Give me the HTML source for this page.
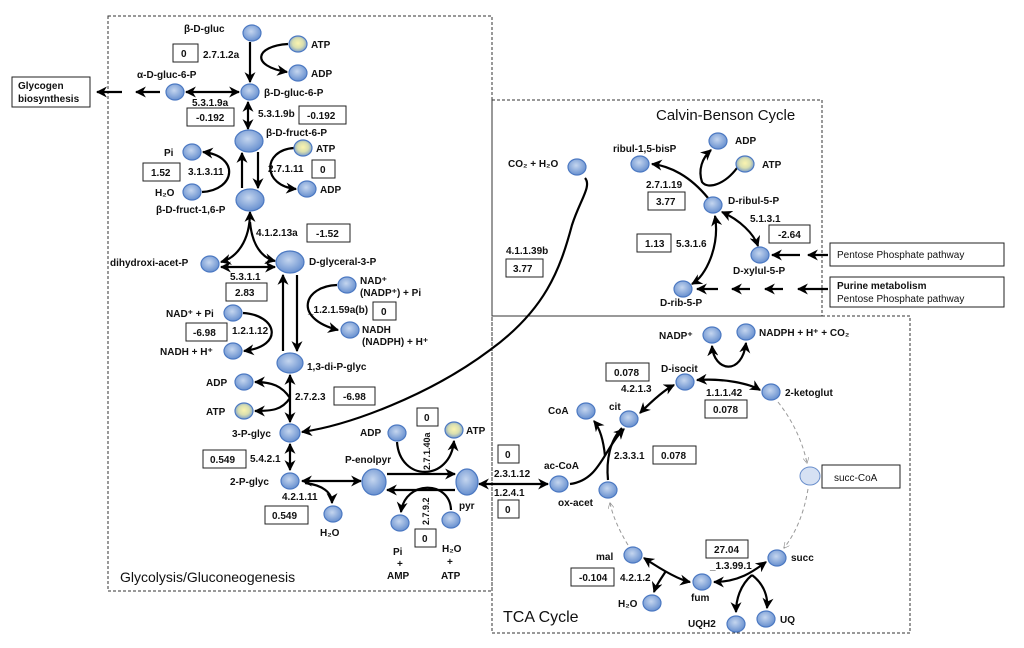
<!DOCTYPE html>
<html><head><meta charset="utf-8"><style>
html,body{margin:0;padding:0;background:#fff;}
svg{display:block;font-family:"Liberation Sans",sans-serif;}
text{font-size:10px;font-weight:bold;fill:#111;}
.t{font-weight:normal;}
.n{stroke:#4c79c2;stroke-width:1.2;fill:url(#g);}
.y{stroke:#4c79c2;stroke-width:1.2;fill:url(#gy);}
.b{fill:#fff;stroke:#222;stroke-width:1;}
.a{fill:none;stroke:#000;stroke-width:2.2;}
.d{fill:none;stroke:#333;stroke-width:1;stroke-dasharray:3 2;}
.dash{fill:none;stroke:#999;stroke-width:1;stroke-dasharray:4 3;}
</style></head><body>
<svg width="1024" height="648" viewBox="0 0 1024 648" xmlns="http://www.w3.org/2000/svg">
<defs>
<radialGradient id="g" cx="45%" cy="40%" r="60%"><stop offset="0" stop-color="#c5d6ef"/><stop offset="1" stop-color="#6890cf"/></radialGradient>
<radialGradient id="gy" cx="50%" cy="45%" r="60%"><stop offset="0" stop-color="#fbf4b0"/><stop offset="0.5" stop-color="#d9dfb0"/><stop offset="1" stop-color="#6890cf"/></radialGradient>
<marker id="m" viewBox="0 0 10 10" refX="9" refY="5" markerWidth="5" markerHeight="5" orient="auto-start-reverse"><path d="M0,0 L10,5 L0,10 L3,5 z" fill="#000"/></marker>
<marker id="mg" viewBox="0 0 10 10" refX="9" refY="5" markerWidth="6" markerHeight="6" orient="auto"><path d="M0,0 L10,5 L0,10" fill="none" stroke="#888"/></marker>
</defs>

<!-- region boxes -->
<rect x="108" y="16" width="384" height="575" class="d"/>
<rect x="492" y="100" width="330" height="216" class="d"/>
<rect x="492" y="316" width="418" height="317" class="d"/>

<text x="120" y="582" class="t" style="font-size:14px">Glycolysis/Gluconeogenesis</text>
<text x="656" y="120" class="t" style="font-size:15px">Calvin-Benson Cycle</text>
<text x="503" y="622" class="t" style="font-size:16px">TCA Cycle</text>

<!-- external boxes -->
<rect x="12" y="77" width="78" height="30" class="b"/>
<text x="18" y="89">Glycogen</text><text x="18" y="102">biosynthesis</text>
<rect x="830" y="243" width="174" height="23" class="b"/>
<text x="837" y="258" class="t">Pentose Phosphate  pathway</text>
<rect x="830" y="277" width="174" height="30" class="b"/>
<text x="837" y="289">Purine metabolism</text><text x="837" y="302" class="t">Pentose Phosphate  pathway</text>
<rect x="822" y="465" width="78" height="23" class="b"/>
<text x="834" y="481" class="t">succ-CoA</text>

<!-- glycolysis arrows -->
<path class="a" d="M250,42 L250,82" marker-end="url(#m)"/>
<path class="a" d="M288,44 C255,46 250,66 287,72" marker-end="url(#m)"/>
<path class="a" d="M186,92 L239,92" marker-start="url(#m)" marker-end="url(#m)"/>
<path class="a" d="M160,92 L136,92" marker-end="url(#m)"/>
<path class="a" d="M122,92 L97,92" marker-end="url(#m)"/>
<path class="a" d="M248,102 L248,129" marker-start="url(#m)" marker-end="url(#m)"/>
<path class="a" d="M258,152 L258,188" marker-end="url(#m)"/>
<path class="a" d="M242,188 L242,153" marker-end="url(#m)"/>
<path class="a" d="M202,192 C236,190 240,156 203,152" marker-end="url(#m)"/>
<path class="a" d="M294,148 C262,150 262,186 296,189" marker-end="url(#m)"/>
<path class="a" d="M250,212 C250,242 236,258 221,262" marker-start="url(#m)" marker-end="url(#m)"/>
<path class="a" d="M250,222 C252,245 262,258 275,261" marker-end="url(#m)"/>
<path class="a" d="M221,267 L275,267" marker-start="url(#m)" marker-end="url(#m)"/>
<path class="a" d="M283,351 L283,275" marker-end="url(#m)"/>
<path class="a" d="M297,275 L297,351" marker-end="url(#m)"/>
<path class="a" d="M337,285 C304,286 292,318 338,330" marker-end="url(#m)"/>
<path class="a" d="M243,313 C277,315 285,346 244,351" marker-end="url(#m)"/>
<path class="a" d="M290,375 L290,422" marker-start="url(#m)" marker-end="url(#m)"/>
<path class="a" d="M290,398 C282,386 272,382 255,382" marker-end="url(#m)"/>
<path class="a" d="M290,398 C282,410 272,411 255,411" marker-end="url(#m)"/>
<path class="a" d="M290,444 L290,470" marker-start="url(#m)" marker-end="url(#m)"/>
<path class="a" d="M302,481 L361,481" marker-start="url(#m)" marker-end="url(#m)"/>
<path class="a" d="M305,483 C322,485 332,492 332,503" marker-end="url(#m)"/>
<path class="a" d="M387,474 L455,474" marker-end="url(#m)"/>
<path class="a" d="M455,490 L387,490" marker-end="url(#m)"/>
<path class="a" d="M397,442 C400,482 450,482 454,441" marker-end="url(#m)"/>
<path class="a" d="M451,510 C450,480 405,480 401,512" marker-end="url(#m)"/>
<path class="a" d="M548,484 L479,484" marker-start="url(#m)" marker-end="url(#m)"/>
<path class="a" d="M585,178 C592,186 580,200 572,225 C560,270 545,310 490,350 C430,395 350,425 302,432" marker-end="url(#m)"/>

<!-- Calvin arrows -->
<path class="a" d="M708,198 C690,176 670,166 652,164" marker-end="url(#m)"/>
<path class="a" d="M737,168 C725,184 708,190 702,182 C698,170 702,158 711,150" marker-end="url(#m)"/>
<path class="a" d="M722,212 C740,220 754,234 758,246" marker-start="url(#m)" marker-end="url(#m)"/>
<path class="a" d="M715,216 C720,246 706,276 692,284" marker-start="url(#m)" marker-end="url(#m)"/>
<path class="a" d="M800,255 L772,255" marker-end="url(#m)"/>
<path class="a" d="M828,255 L808,255" marker-end="url(#m)"/>
<path class="a" d="M718,289 L697,289" marker-end="url(#m)"/>
<path class="a" d="M750,289 L732,289" marker-end="url(#m)"/>
<path class="a" d="M783,289 L765,289" marker-end="url(#m)"/>
<path class="a" d="M828,289 L798,289" marker-end="url(#m)"/>

<!-- TCA arrows -->
<path class="a" d="M570,484 C600,480 603,450 624,429" marker-end="url(#m)"/>
<path class="a" d="M608,480 C606,460 610,440 622,428" />
<path class="a" d="M605,456 C603,436 598,426 594,421" marker-end="url(#m)"/>
<path class="a" d="M640,413 C655,398 666,389 674,385" marker-start="url(#m)" marker-end="url(#m)"/>
<path class="a" d="M697,380 C725,378 750,384 760,390" marker-start="url(#m)" marker-end="url(#m)"/>
<path class="a" d="M712,346 C714,372 742,376 746,343" marker-start="url(#m)" marker-end="url(#m)"/>
<path class="dash" d="M778,402 Q800,430 807,463" marker-end="url(#mg)"/>
<path class="dash" d="M808,489 Q802,525 784,548" marker-end="url(#mg)"/>
<path class="dash" d="M628,545 Q614,522 610,503" marker-end="url(#mg)"/>
<path class="a" d="M644,558 C665,572 680,580 690,582" marker-start="url(#m)" marker-end="url(#m)"/>
<path class="a" d="M666,571 C660,580 656,586 654,592" marker-end="url(#m)"/>
<path class="a" d="M714,582 C740,582 755,570 766,562" marker-start="url(#m)" marker-end="url(#m)"/>
<path class="a" d="M752,575 C740,585 736,600 736,612" marker-end="url(#m)"/>
<path class="a" d="M752,575 C765,585 768,598 767,608" marker-end="url(#m)"/>

<!-- nodes -->
<ellipse class="n" cx="252" cy="33" rx="9" ry="8"/>
<ellipse class="y" cx="298" cy="44" rx="9" ry="8"/>
<ellipse class="n" cx="298" cy="73" rx="9" ry="8"/>
<ellipse class="n" cx="250" cy="92" rx="9" ry="8"/>
<ellipse class="n" cx="175" cy="92" rx="9" ry="8"/>
<ellipse class="n" cx="249" cy="141" rx="14" ry="11"/>
<ellipse class="y" cx="303" cy="148" rx="9" ry="8"/>
<ellipse class="n" cx="307" cy="189" rx="9" ry="8"/>
<ellipse class="n" cx="192" cy="152" rx="9" ry="8"/>
<ellipse class="n" cx="192" cy="192" rx="9" ry="8"/>
<ellipse class="n" cx="250" cy="200" rx="14" ry="11"/>
<ellipse class="n" cx="210" cy="264" rx="9" ry="8"/>
<ellipse class="n" cx="290" cy="262" rx="14" ry="11"/>
<ellipse class="n" cx="347" cy="285" rx="9" ry="8"/>
<ellipse class="n" cx="350" cy="330" rx="9" ry="8"/>
<ellipse class="n" cx="233" cy="313" rx="9" ry="8"/>
<ellipse class="n" cx="233" cy="351" rx="9" ry="8"/>
<ellipse class="n" cx="290" cy="363" rx="13" ry="10"/>
<ellipse class="n" cx="244" cy="382" rx="9" ry="8"/>
<ellipse class="y" cx="244" cy="411" rx="9" ry="8"/>
<ellipse class="n" cx="290" cy="433" rx="10" ry="9"/>
<ellipse class="n" cx="290" cy="481" rx="9" ry="8"/>
<ellipse class="n" cx="333" cy="514" rx="9" ry="8"/>
<ellipse class="n" cx="374" cy="482" rx="12" ry="13"/>
<ellipse class="n" cx="467" cy="482" rx="11" ry="13"/>
<ellipse class="n" cx="397" cy="433" rx="9" ry="8"/>
<ellipse class="y" cx="454" cy="430" rx="9" ry="8"/>
<ellipse class="n" cx="400" cy="523" rx="9" ry="8"/>
<ellipse class="n" cx="451" cy="520" rx="9" ry="8"/>
<ellipse class="n" cx="577" cy="167" rx="9" ry="8"/>
<ellipse class="n" cx="640" cy="164" rx="9" ry="8"/>
<ellipse class="n" cx="718" cy="141" rx="9" ry="8"/>
<ellipse class="y" cx="745" cy="164" rx="9" ry="8"/>
<ellipse class="n" cx="713" cy="205" rx="9" ry="8"/>
<ellipse class="n" cx="760" cy="255" rx="9" ry="8"/>
<ellipse class="n" cx="683" cy="289" rx="9" ry="8"/>
<ellipse class="n" cx="559" cy="484" rx="9" ry="8"/>
<ellipse class="n" cx="608" cy="490" rx="9" ry="8"/>
<ellipse class="n" cx="586" cy="411" rx="9" ry="8"/>
<ellipse class="n" cx="629" cy="419" rx="9" ry="8"/>
<ellipse class="n" cx="685" cy="382" rx="9" ry="8"/>
<ellipse class="n" cx="712" cy="335" rx="9" ry="8"/>
<ellipse class="n" cx="746" cy="332" rx="9" ry="8"/>
<ellipse class="n" cx="771" cy="392" rx="9" ry="8"/>
<ellipse cx="810" cy="476" rx="10" ry="9" fill="#d6e1f3" stroke="#6a8fcc" stroke-width="1"/>
<ellipse class="n" cx="777" cy="558" rx="9" ry="8"/>
<ellipse class="n" cx="702" cy="582" rx="9" ry="8"/>
<ellipse class="n" cx="633" cy="555" rx="9" ry="8"/>
<ellipse class="n" cx="652" cy="603" rx="9" ry="8"/>
<ellipse class="n" cx="736" cy="624" rx="9" ry="8"/>
<ellipse class="n" cx="766" cy="619" rx="9" ry="8"/>

<!-- glycolysis labels -->
<text x="184" y="32">β-D-gluc</text>
<text x="311" y="48">ATP</text><text x="311" y="77">ADP</text>
<rect x="173" y="44" width="25" height="18" class="b"/><text x="181" y="57">0</text>
<text x="203" y="58">2.7.1.2a</text>
<text x="137" y="78">α-D-gluc-6-P</text>
<text x="264" y="96">β-D-gluc-6-P</text>
<text x="192" y="106">5.3.1.9a</text>
<rect x="187" y="108" width="47" height="18" class="b"/><text x="196" y="121">-0.192</text>
<text x="258" y="117">5.3.1.9b</text>
<rect x="299" y="106" width="47" height="18" class="b"/><text x="307" y="119">-0.192</text>
<text x="266" y="136">β-D-fruct-6-P</text>
<text x="316" y="152">ATP</text><text x="320" y="193">ADP</text>
<text x="164" y="156">Pi</text>
<text x="155" y="196">H₂O</text>
<rect x="143" y="163" width="37" height="18" class="b"/><text x="151" y="176">1.52</text>
<text x="188" y="175">3.1.3.11</text>
<text x="268" y="172">2.7.1.11</text>
<rect x="312" y="160" width="23" height="18" class="b"/><text x="320" y="173">0</text>
<text x="156" y="213">β-D-fruct-1,6-P</text>
<text x="256" y="236">4.1.2.13a</text>
<rect x="307" y="224" width="43" height="18" class="b"/><text x="316" y="237">-1.52</text>
<text x="110" y="266">dihydroxi-acet-P</text>
<text x="309" y="265">D-glyceral-3-P</text>
<text x="230" y="280">5.3.1.1</text>
<rect x="226" y="283" width="41" height="18" class="b"/><text x="235" y="296">2.83</text>
<text x="360" y="284">NAD⁺</text><text x="360" y="296">(NADP⁺) + Pi</text>
<text x="308" y="313">_1.2.1.59a(b)</text>
<rect x="373" y="302" width="23" height="18" class="b"/><text x="381" y="315">0</text>
<text x="362" y="333">NADH</text><text x="362" y="345">(NADPH) + H⁺</text>
<text x="166" y="317">NAD⁺ + Pi</text>
<rect x="186" y="323" width="41" height="18" class="b"/><text x="193" y="336">-6.98</text>
<text x="232" y="334">1.2.1.12</text>
<text x="160" y="355">NADH + H⁺</text>
<text x="307" y="370">1,3-di-P-glyc</text>
<text x="206" y="386">ADP</text><text x="206" y="415">ATP</text>
<text x="295" y="400">2.7.2.3</text>
<rect x="334" y="387" width="41" height="18" class="b"/><text x="343" y="400">-6.98</text>
<text x="232" y="437">3-P-glyc</text>
<rect x="203" y="450" width="43" height="18" class="b"/><text x="210" y="463">0.549</text>
<text x="250" y="462">5.4.2.1</text>
<text x="230" y="485">2-P-glyc</text>
<text x="282" y="500">4.2.1.11</text>
<rect x="265" y="506" width="43" height="18" class="b"/><text x="272" y="519">0.549</text>
<text x="320" y="536">H₂O</text>
<text x="345" y="463">P-enolpyr</text>
<text x="360" y="436">ADP</text><text x="466" y="434">ATP</text>
<rect x="417" y="408" width="21" height="18" class="b"/><text x="424" y="421">0</text>
<text x="0" y="0" transform="translate(430,470) rotate(-90)" style="font-size:9px">2.7.1.40a</text>
<text x="0" y="0" transform="translate(429,525) rotate(-90)" style="font-size:9px">2.7.9.2</text>
<rect x="415" y="529" width="21" height="18" class="b"/><text x="422" y="542">0</text>
<text x="459" y="509">pyr</text>
<text x="393" y="555">Pi</text><text x="397" y="567">+</text><text x="387" y="579">AMP</text>
<text x="442" y="552">H₂O</text><text x="447" y="565">+</text><text x="441" y="579">ATP</text>

<!-- Calvin labels -->
<text x="508" y="167">CO₂ + H₂O</text>
<text x="613" y="152">ribul-1,5-bisP</text>
<text x="735" y="144">ADP</text><text x="762" y="168">ATP</text>
<text x="646" y="188">2.7.1.19</text>
<rect x="648" y="192" width="37" height="18" class="b"/><text x="656" y="205">3.77</text>
<text x="728" y="204">D-ribul-5-P</text>
<text x="750" y="222">5.1.3.1</text>
<rect x="769" y="225" width="41" height="18" class="b"/><text x="778" y="238">-2.64</text>
<rect x="637" y="234" width="34" height="18" class="b"/><text x="645" y="247">1.13</text>
<text x="676" y="247">5.3.1.6</text>
<text x="733" y="274">D-xylul-5-P</text>
<text x="660" y="306">D-rib-5-P</text>
<text x="506" y="254">4.1.1.39b</text>
<rect x="506" y="259" width="37" height="18" class="b"/><text x="513" y="272">3.77</text>

<!-- TCA labels -->
<rect x="498" y="445" width="21" height="18" class="b"/><text x="505" y="458">0</text>
<text x="494" y="477">2.3.1.12</text>
<text x="494" y="496">1.2.4.1</text>
<rect x="498" y="500" width="21" height="18" class="b"/><text x="505" y="513">0</text>
<text x="544" y="469">ac-CoA</text>
<text x="558" y="506">ox-acet</text>
<text x="548" y="414">CoA</text>
<text x="609" y="410">cit</text>
<rect x="606" y="363" width="43" height="18" class="b"/><text x="614" y="376">0.078</text>
<text x="621" y="392">4.2.1.3</text>
<text x="661" y="372">D-isocit</text>
<text x="659" y="339">NADP⁺</text>
<text x="759" y="336">NADPH + H⁺ + CO₂</text>
<text x="706" y="396">1.1.1.42</text>
<rect x="705" y="400" width="42" height="18" class="b"/><text x="713" y="413">0.078</text>
<text x="785" y="396">2-ketoglut</text>
<text x="614" y="459">2.3.3.1</text>
<rect x="653" y="446" width="43" height="18" class="b"/><text x="661" y="459">0.078</text>
<rect x="706" y="540" width="42" height="18" class="b"/><text x="714" y="553">27.04</text>
<text x="710" y="569">_1.3.99.1</text>
<text x="791" y="561">succ</text>
<text x="596" y="560">mal</text>
<rect x="571" y="568" width="43" height="18" class="b"/><text x="579" y="581">-0.104</text>
<text x="620" y="581">4.2.1.2</text>
<text x="691" y="601">fum</text>
<text x="618" y="607">H₂O</text>
<text x="688" y="627">UQH2</text>
<text x="780" y="623">UQ</text>
</svg>
</body></html>
